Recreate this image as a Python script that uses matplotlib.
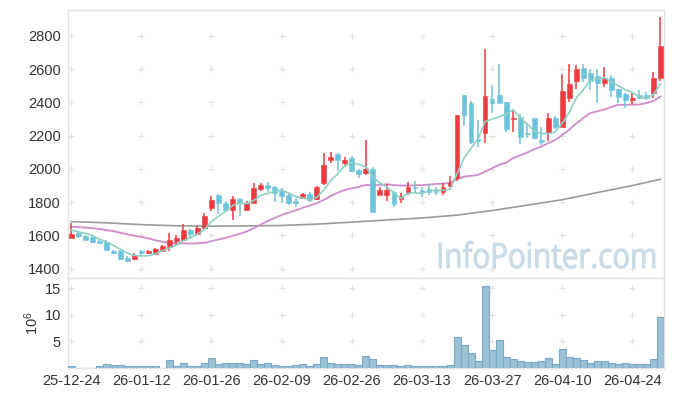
import numpy as np
import pandas as pd
import matplotlib
matplotlib.use("Agg")
import matplotlib.pyplot as plt
from matplotlib.textpath import TextPath
from matplotlib.patches import PathPatch
from matplotlib.font_manager import FontProperties
from matplotlib.transforms import Affine2D, IdentityTransform

# ---------------- data ----------------
opens = [1587, 1612, 1598, 1592, 1568, 1560, 1505, 1506, 1464, 1461,
         1506, 1495, 1487, 1507, 1533, 1568, 1573, 1633, 1609, 1647,
         1763, 1843, 1797, 1753, 1817, 1753, 1797, 1877, 1903, 1890,
         1867, 1843, 1807, 1823, 1849, 1819, 1914, 2054, 2090, 2034,
         2064, 1994, 1974, 1998, 1843, 1843, 1860, 1819, 1854, 1893,
         1873, 1880, 1869, 1863, 1897, 1944, 2445, 2399, 2182, 2218,
         2421, 2445, 2405, 2299, 2311, 2218, 2305, 2174, 2214, 2305,
         2251, 2429, 2531, 2606, 2579, 2559, 2515, 2545, 2481, 2451,
         2417, 2445, 2445, 2455, 2545]
highs = [1672, 1620, 1602, 1595, 1577, 1573, 1514, 1510, 1474, 1494,
         1512, 1510, 1522, 1545, 1615, 1603, 1669, 1640, 1655, 1737,
         1839, 1850, 1807, 1837, 1827, 1809, 1913, 1914, 1921, 1897,
         1884, 1850, 1823, 1857, 1863, 1900, 2094, 2100, 2095, 2074,
         2075, 1998, 2174, 2010, 1893, 1909, 1865, 1853, 1919, 1929,
         1893, 1907, 1893, 1913, 1958, 2325, 2445, 2410, 2295, 2720,
         2506, 2632, 2405, 2350, 2331, 2275, 2305, 2252, 2335, 2320,
         2571, 2632, 2626, 2630, 2600, 2600, 2612, 2565, 2481, 2455,
         2455, 2475, 2465, 2585, 2912]
lows = [1582, 1585, 1570, 1552, 1547, 1510, 1486, 1456, 1442, 1452,
        1476, 1488, 1482, 1500, 1506, 1543, 1565, 1592, 1600, 1640,
        1750, 1729, 1741, 1693, 1717, 1749, 1797, 1869, 1861, 1804,
        1803, 1783, 1769, 1817, 1803, 1815, 1905, 2036, 1990, 2014,
        1980, 1944, 1963, 1743, 1843, 1806, 1773, 1797, 1843, 1853,
        1833, 1843, 1843, 1843, 1893, 1930, 2258, 2150, 2134, 2156,
        2337, 2399, 2222, 2222, 2148, 2184, 2180, 2144, 2170, 2240,
        2251, 2405, 2479, 2525, 2475, 2395, 2495, 2431, 2395, 2365,
        2389, 2420, 2415, 2425, 2530]
closes = [1608, 1595, 1575, 1562, 1556, 1514, 1496, 1460, 1446, 1483,
          1496, 1505, 1517, 1537, 1570, 1583, 1633, 1607, 1647, 1717,
          1813, 1793, 1753, 1819, 1793, 1797, 1887, 1903, 1883, 1854,
          1839, 1797, 1793, 1849, 1813, 1893, 2024, 2070, 2054, 2054,
          1990, 1970, 1998, 1743, 1873, 1873, 1789, 1839, 1893, 1883,
          1860, 1863, 1861, 1893, 1917, 2325, 2325, 2164, 2170, 2439,
          2399, 2399, 2240, 2307, 2194, 2210, 2188, 2164, 2305, 2251,
          2469, 2511, 2600, 2549, 2531, 2515, 2545, 2475, 2435, 2415,
          2425, 2425, 2425, 2545, 2740]
# closes before the first visible day, estimated from the MA5 / MA20 lines
prior_closes = [1640, 1637, 1635, 1645, 1642, 1640, 1639, 1645, 1642, 1638,
                1700, 1725, 1734, 1670, 1663, 1640, 1625, 1622, 1662]
volumes = [0.44, 0.08, 0.08, 0.08, 0.40, 0.75, 0.56, 0.56, 0.44, 0.40,
           0.40, 0.40, 0.40, 0.08, 1.56, 0.44, 1.00, 0.44, 0.44, 1.00,
           1.94, 0.80, 1.00, 1.00, 1.00, 0.80, 1.56, 0.80, 1.00, 0.62,
           0.44, 0.44, 0.62, 0.80, 0.44, 0.80, 2.10, 1.00, 0.80, 0.80,
           0.80, 0.62, 2.30, 1.75, 0.56, 0.56, 0.56, 0.44, 0.62, 0.44,
           0.44, 0.44, 0.44, 0.44, 0.62, 5.80, 4.30, 2.80, 1.40, 15.4,
           3.40, 5.30, 2.10, 1.70, 1.40, 1.20, 1.20, 1.40, 1.90, 0.75,
           3.60, 2.10, 1.90, 1.56, 1.00, 1.40, 1.40, 1.00, 0.80, 1.00,
           0.80, 0.80, 0.80, 1.75, 9.60]  # millions
# long moving average (grey line), read at sample days
long_ma_idx = [0, 5, 10, 15, 20, 25, 30, 35, 40, 45, 50, 55, 60, 65, 70, 75, 80, 84]
long_ma_val = [1683, 1676, 1665, 1658, 1656, 1657, 1660, 1668, 1680, 1693,
               1705, 1722, 1750, 1782, 1815, 1858, 1900, 1938]
tick_idx = [0, 10, 20, 30, 40, 50, 60, 70, 80]
tick_labels = ['25-12-24', '26-01-12', '26-01-26', '26-02-09', '26-02-26',
               '26-03-13', '26-03-27', '26-04-10', '26-04-24']
price_ticks = [1400, 1600, 1800, 2000, 2200, 2400, 2600, 2800]
vol_ticks = [5, 10, 15]
watermark = 'InfoPointer.com'

# ---------------- derived ----------------
o = np.array(opens, float); h = np.array(highs, float)
l = np.array(lows, float); c = np.array(closes, float)
v = np.array(volumes, float)
n = len(c)
x = np.arange(n)
allc = pd.Series(prior_closes + closes, dtype=float)
ma5 = allc.rolling(5).mean().to_numpy()[len(prior_closes):]
ma20 = allc.rolling(20).mean().to_numpy()[len(prior_closes):]

UP = '#ee3b3f'
DOWN = '#6cc3d9'
GRID = '#e2e2e2'
SPINE = '#e3e3e3'
TXT = '#333333'

plt.rcParams['font.family'] = ['Liberation Sans', 'DejaVu Sans']

W, H = 673, 396
fig = plt.figure(figsize=(W/100, H/100), dpi=100)
ax = fig.add_axes([68/W, 1-278/H, 596/W, 268/H])
axv = fig.add_axes([68/W, 1-368/H, 596/W, 90/H], sharex=ax)

up = c >= o
cols = np.where(up, UP, DOWN)
body_bot = np.minimum(o, c)
body_h = np.maximum(np.abs(c - o), 5)

# grid crosses
gx, gy = np.meshgrid(tick_idx, price_ticks)
ax.plot(gx.ravel(), gy.ravel(), '+', color=GRID, ms=4.5, mew=0.8, zorder=0)
gx2, gy2 = np.meshgrid(tick_idx, vol_ticks)
axv.plot(gx2.ravel(), gy2.ravel(), '+', color=GRID, ms=4.5, mew=0.8, zorder=0)

# watermark (slightly condensed lettering)
tp = TextPath((0, 0), watermark, size=1, prop=FontProperties(family='Open Sans'))
bb = tp.get_extents()
target_w, cap_h = 216.0, 25.0
sy = cap_h / 0.714
sx = target_w / bb.width
tr = Affine2D().translate(-bb.x0, 0).scale(sx, sy).translate(439, H - 268)
wm = PathPatch(tr.transform_path(tp), facecolor='#c9dbe6', edgecolor='#c9dbe6',
               linewidth=0.7, zorder=1)
ax.add_artist(wm)
wm.set_transform(IdentityTransform())

# moving averages
ax.plot(long_ma_idx, long_ma_val, color='#9a9a9a', lw=1.2, zorder=2)
ax.plot(x, ma20, color='#cf8cc8', lw=1.3, zorder=2)

# candles
ax.vlines(x, l, h, colors=cols, lw=1.1, zorder=3)
ax.bar(x, body_h, bottom=body_bot, width=0.68, color=cols, edgecolor=cols,
       linewidth=0.4, zorder=4)
ax.plot(x, ma5, color='#8fd0c4', lw=1.2, zorder=5)

# volume
axv.bar(x, v, width=1.0, color='#9bc1d5', edgecolor='#78a9c7', linewidth=0.8, zorder=3)

ax.set_xlim(-0.45, 84.5)
ax.set_ylim(1344, 2956)
axv.set_ylim(0, 16.9)

ax.set_yticks(price_ticks)
ax.set_yticklabels([str(t) for t in price_ticks])
axv.set_yticks(vol_ticks)
axv.set_yticklabels([str(t) for t in vol_ticks])
axv.set_xticks(tick_idx)
axv.set_xticklabels(tick_labels)
ax.tick_params(axis='x', labelbottom=False, length=0)
for a in (ax, axv):
    a.tick_params(length=0, labelsize=10.5, colors=TXT, pad=5)
    for s in a.spines.values():
        s.set_color(SPINE)
        s.set_linewidth(1.0)
axv.tick_params(axis='x', pad=4)
axv.set_ylabel(r'$\mathregular{10^6}$', fontsize=10.5, color=TXT, labelpad=3)

fig.savefig('out.png', dpi=100)
